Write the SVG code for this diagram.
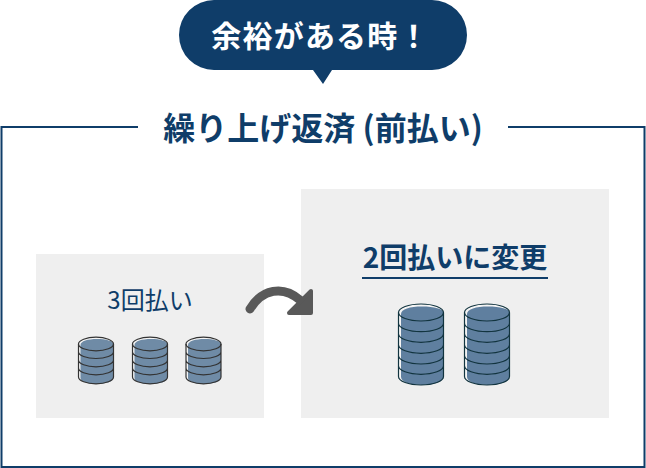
<svg xmlns="http://www.w3.org/2000/svg" xmlns:xlink="http://www.w3.org/1999/xlink" width="646" height="468" viewBox="0 0 646 468">
<style>
text{font-family:"Noto Sans CJK JP","Noto Sans",sans-serif;fill:#0f3d69}
.p{fill:#efefef}
.l{fill:none;stroke:#0f3d69;stroke-width:2}
.s{fill:none;stroke:#333;stroke-width:1.2}
.b{fill:none;stroke:#12343f;stroke-width:1.2}
</style>
<defs>
<g id="sm">
<path d="M0.500 7V40A17.500 7 0 0 0 35.500 40V7A17.500 7 0 0 0 0.500 7Z" fill="#f4f4f4"/>
<path d="M2.500 8C2.500 4 10 2 19 2S35.500 4 35.500 7V40C35.500 45 27 47 19 47S2.500 45 2.500 41Z" fill="#6f8ba6"/>
<ellipse class="s" cx="18" cy="7" rx="17.500" ry="6.800"/>
<path class="s" d="M0.500 7V40A17.500 6.800 0 0 0 35.500 40V7M0.500 14.700A17.500 6.800 0 0 0 35.500 14.700M0.500 23A17.500 6.800 0 0 0 35.500 23M0.500 31A17.500 6.800 0 0 0 35.500 31"/>
</g>
<g id="lg">
<path d="M0.500 8.500V72.500A22.500 8.500 0 0 0 45.500 72.500V8.500A22.500 8.500 0 0 0 0.500 8.500Z" fill="#f4f4f4"/>
<path d="M3 10C3 5 12 2.500 24 2.500S45.500 5 45.500 8.500V72.500C45.500 78 36 81 24 81S3 78 3 73Z" fill="#5f7f9f"/>
<ellipse class="b" cx="23" cy="8.500" rx="22.500" ry="8.500"/>
<path class="b" d="M0.500 8.500V72.500A22.500 8.500 0 0 0 45.500 72.500V8.500M0.500 19.200A22.500 8.500 0 0 0 45.500 19.200M0.500 29.800A22.500 8.500 0 0 0 45.500 29.800M0.500 40.800A22.500 8.500 0 0 0 45.500 40.800M0.500 51.500A22.500 8.500 0 0 0 45.500 51.500M0.500 61.800A22.500 8.500 0 0 0 45.500 61.800"/>
</g>
</defs>
<rect width="646" height="468" fill="#fff"/>
<g id="frame">
<path class="l" d="M138 127H1.500V467H644.500V127H508"/>
<text x="323" y="140" font-size="32" font-weight="700" text-anchor="middle">繰り上げ返済 (前払い)</text>
</g>
<g id="bubble">
<path d="M214 0H432A35 35 0 0 1 432 70H332L323 84L313 70H214A35 35 0 0 1 214 0Z" fill="#0f3d69"/>
<text x="320.500" y="47" font-size="30" font-weight="700" text-anchor="middle" letter-spacing="1.200" style="fill:#fff">余裕がある時！</text>
</g>
<g id="before">
<rect class="p" x="36" y="254" width="228" height="164"/>
<text x="150" y="309" font-size="24" font-weight="400" text-anchor="middle">3回払い</text>
<use xlink:href="#sm" href="#sm" x="78" y="337"/>
<use xlink:href="#sm" href="#sm" x="132" y="337"/>
<use xlink:href="#sm" href="#sm" x="185.500" y="337"/>
</g>
<g id="after">
<rect class="p" x="301" y="189" width="308" height="229"/>
<text x="455" y="268" font-size="28" font-weight="700" text-anchor="middle">2回払いに変更</text>
<rect x="362" y="277" width="186" height="2" fill="#0f3d69"/>
<use xlink:href="#lg" href="#lg" x="398" y="304"/>
<use xlink:href="#lg" href="#lg" x="464" y="304"/>
</g>
<g id="connectors">
<path d="M250 309C262 289 283 285 300 300" fill="none" stroke="#595959" stroke-width="9" stroke-linecap="round"/>
<path d="M311 291V313H289Z" fill="#595959" stroke="#595959" stroke-width="4" stroke-linejoin="round"/>
</g>
</svg>
